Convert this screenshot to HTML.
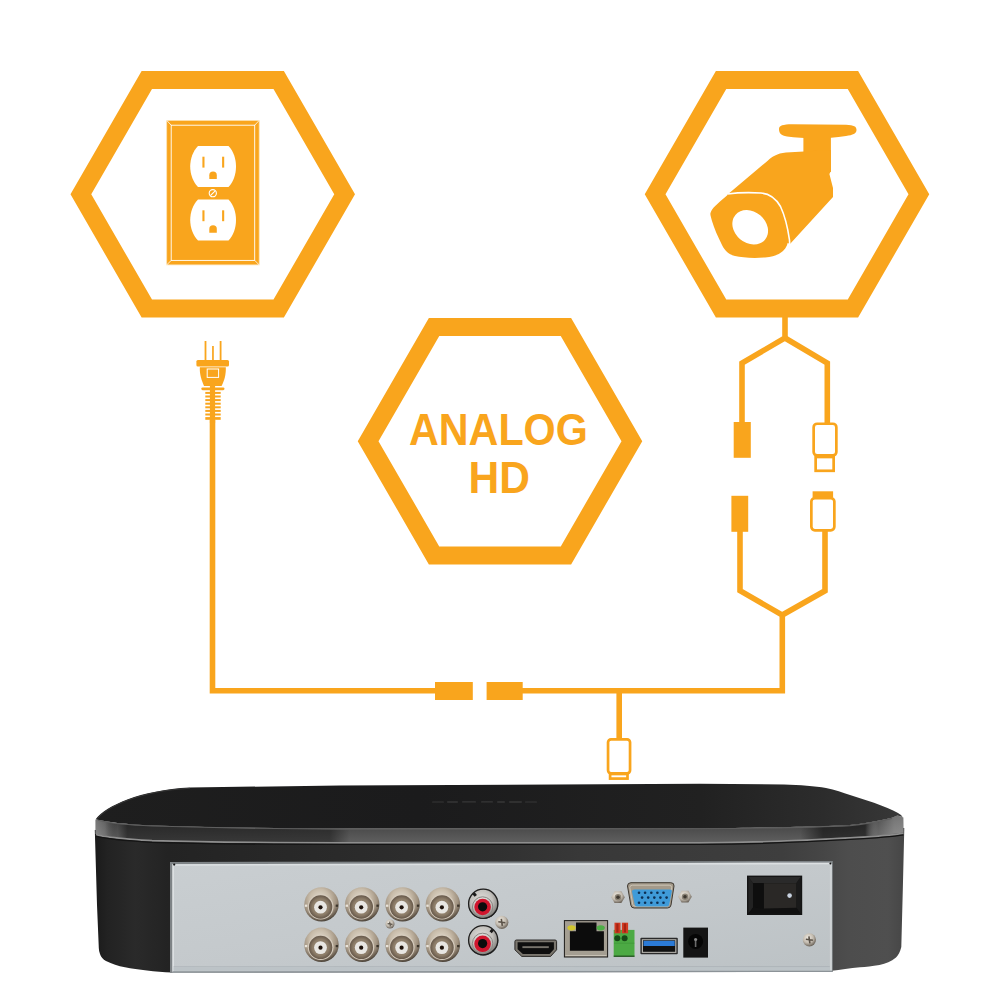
<!DOCTYPE html>
<html><head><meta charset="utf-8">
<style>
html,body{margin:0;padding:0;background:#fff;}
body{width:1000px;height:1000px;overflow:hidden;font-family:"Liberation Sans",sans-serif;}
svg{display:block;}
</style></head>
<body>
<svg width="1000" height="1000" viewBox="0 0 1000 1000">
<defs>
<linearGradient id="gBody" gradientUnits="userSpaceOnUse" x1="95" y1="0" x2="904" y2="0">
<stop offset="0" stop-color="#1a1a1a"/><stop offset="0.015" stop-color="#222"/><stop offset="0.05" stop-color="#2a2a2a"/><stop offset="0.09" stop-color="#232323"/>
<stop offset="0.3" stop-color="#2a2a2a"/><stop offset="0.5" stop-color="#313131"/><stop offset="0.6" stop-color="#383838"/><stop offset="0.85" stop-color="#3e3e3e"/><stop offset="0.9" stop-color="#464646"/><stop offset="0.93" stop-color="#4d4d4d"/><stop offset="0.98" stop-color="#4f4f4f"/><stop offset="1" stop-color="#464646"/>
</linearGradient>
<linearGradient id="gLid" gradientUnits="userSpaceOnUse" x1="95" y1="0" x2="904" y2="0">
<stop offset="0" stop-color="#1e1e1e"/><stop offset="0.4" stop-color="#1b1b1c"/><stop offset="0.75" stop-color="#212121"/><stop offset="0.9" stop-color="#2c2c2c"/><stop offset="1" stop-color="#383838"/>
</linearGradient>
<linearGradient id="gRim" x1="0" y1="0" x2="0" y2="1">
<stop offset="0" stop-color="#363636"/><stop offset="0.3" stop-color="#444"/><stop offset="0.8" stop-color="#575757"/><stop offset="1" stop-color="#5e5e5e"/>
</linearGradient>
<linearGradient id="gRimEnds" gradientUnits="userSpaceOnUse" x1="95" y1="0" x2="904" y2="0">
<stop offset="0" stop-color="#fff" stop-opacity="0.3"/><stop offset="0.0124" stop-color="#fff" stop-opacity="0.18"/><stop offset="0.028" stop-color="#000" stop-opacity="0"/><stop offset="0.04" stop-color="#000" stop-opacity="0.42"/>
<stop offset="0.29" stop-color="#000" stop-opacity="0.4"/><stop offset="0.315" stop-color="#000" stop-opacity="0"/>
<stop offset="0.872" stop-color="#000" stop-opacity="0"/><stop offset="0.9" stop-color="#000" stop-opacity="0.5"/><stop offset="0.952" stop-color="#000" stop-opacity="0.45"/><stop offset="0.968" stop-color="#fff" stop-opacity="0.12"/><stop offset="0.988" stop-color="#fff" stop-opacity="0.3"/><stop offset="1" stop-color="#fff" stop-opacity="0.32"/>
</linearGradient>
<linearGradient id="gPanel" x1="0" y1="0" x2="1" y2="1">
<stop offset="0" stop-color="#c9ced1"/><stop offset="0.5" stop-color="#c4c9cc"/><stop offset="1" stop-color="#bcc2c5"/>
</linearGradient>
<radialGradient id="gBncO" cx="0.45" cy="0.35" r="0.65">
<stop offset="0" stop-color="#e4ddd0"/><stop offset="0.45" stop-color="#c8bcaa"/><stop offset="0.75" stop-color="#a09280"/><stop offset="0.92" stop-color="#6a5e50"/><stop offset="1" stop-color="#4a4238"/>
</radialGradient>
<radialGradient id="gBncI" cx="0.5" cy="0.5" r="0.5">
<stop offset="0" stop-color="#a89884"/><stop offset="0.7" stop-color="#8c7c68"/><stop offset="1" stop-color="#66584a"/>
</radialGradient>
<radialGradient id="gRca" cx="0.45" cy="0.4" r="0.6">
<stop offset="0" stop-color="#e4e2de"/><stop offset="0.6" stop-color="#c2c0bc"/><stop offset="0.9" stop-color="#8a8884"/><stop offset="1" stop-color="#2a2a2a"/>
</radialGradient>
<radialGradient id="gScrew" cx="0.4" cy="0.35" r="0.65">
<stop offset="0" stop-color="#f0ece4"/><stop offset="0.6" stop-color="#c2baae"/><stop offset="1" stop-color="#6e665c"/>
</radialGradient>
<g id="bnc">
<circle r="17.2" fill="url(#gBncO)"/>
<circle cx="-0.8" cy="2.4" r="12.8" fill="#d6ccbe"/>
<circle cx="-0.9" cy="2.6" r="11.7" fill="url(#gBncI)"/>
<circle cx="-1" cy="2.8" r="6.4" fill="#e8e6e2"/>
<circle cx="-1" cy="2.9" r="2.1" fill="#1e120b"/>
<rect x="-16.6" y="0.2" width="2.4" height="2.2" fill="#eae4da"/><rect x="14.2" y="0.2" width="2.4" height="2.2" fill="#3a332a"/>
</g>
<g id="rca">
<circle r="15.2" fill="url(#gRca)"/>
<circle r="14.6" fill="none" stroke="#1e1e1e" stroke-width="1.3"/>
<circle cx="-0.6" cy="3.2" r="10.2" fill="none" stroke="#8a8884" stroke-width="1"/>
<circle cx="-0.6" cy="3.2" r="8.3" fill="#d0152d"/>
<circle cx="-0.6" cy="3" r="4.6" fill="#0c0c0c"/>
<rect x="-10" y="-11" width="3" height="3.5" fill="#1a1a1a" transform="rotate(-40 -8.5 -9.2)"/>
</g>
<g id="rca2">
<circle r="15.2" fill="url(#gRca)"/>
<circle r="14.6" fill="none" stroke="#1e1e1e" stroke-width="1.3"/>
<circle cx="-0.6" cy="3.2" r="10.2" fill="none" stroke="#8a8884" stroke-width="1"/>
<circle cx="-0.6" cy="3.6" r="8.3" fill="#d0152d"/>
<circle cx="-0.6" cy="3.4" r="4.6" fill="#0c0c0c"/>
<rect x="7" y="-11" width="3" height="3.5" fill="#1a1a1a" transform="rotate(40 8.5 -9.2)"/>
</g>
<g id="screw">
<circle r="6.6" fill="url(#gScrew)"/>
<path d="M-3.5,-0.5 L3.5,0.5 M-0.5,-3.5 L0.5,3.5" stroke="#5a5248" stroke-width="1.6"/>
</g>
</defs>
<rect width="1000" height="1000" fill="#fff"/>

<!-- DVR -->
<g id="dvr">
<path fill="url(#gBody)" d="M94.8,830 L904.3,828 L902.8,890 L901.3,947 C900,952 898.5,955 896,957.5 C891,961.5 886,963.5 879.5,965 C872,966.3 866,967 860,967.3 C850,968.3 840,969.8 832,970.8 L172,972.5 C155,971.8 138,969.8 125,967.3 C118,966 112,964 106,961 C103,959.5 101,957 100,954 C99.3,952 98.8,950 98.8,948 L97,905 Z"/>
<path fill="url(#gRim)" d="M95.5,819.5 C110,822.5 125,824.5 152,825.4 C220,827.5 280,828.3 340,828.5 L700,828.2 C780,827.5 820,826.5 850,825 C862,824 874,822 892,817.8 L897.4,815.4 L903.3,817.5 L903.5,832.5 C895,834 885,835.2 850,837 C800,840 760,841.8 700,842 L340,842 C250,841.8 190,841 152,840 C125,838.5 105,836.5 95.5,834 Z"/>
<path fill="url(#gRimEnds)" d="M95.5,819.5 C110,822.5 125,824.5 152,825.4 C220,827.5 280,828.3 340,828.5 L700,828.2 C780,827.5 820,826.5 850,825 C862,824 874,822 892,817.8 L897.4,815.4 L903.3,817.5 L903.5,832.5 C895,834 885,835.2 850,837 C800,840 760,841.8 700,842 L340,842 C250,841.8 190,841 152,840 C125,838.5 105,836.5 95.5,834 Z"/>
<path fill="none" stroke="#8e8e8e" stroke-width="1.7" d="M96,834.6 C105,837.2 125,839.2 152,840.7 C190,841.8 250,842.6 340,842.8 L700,842.8 C760,842.6 800,840.8 850,837.8 C885,836 895,834.8 903.5,833.3"/>
<path fill="none" stroke="#141414" stroke-width="1.3" d="M96,836.2 C105,838.8 125,840.8 152,842.3 C190,843.4 250,844.2 340,844.4 L700,844.4 C760,844.2 800,842.4 850,839.4 C885,837.6 895,836.4 903.5,834.9"/>
<path fill="url(#gLid)" d="M96.2,818.6 C106,806 140,790 190,787.5 L340,785.5 L700,783.8 L784,784.5 C800,785 815,786.2 826,788 C835,790 843,792.5 850,795 L874,802.8 C884,806.5 892,810 898,813 C900,814.2 901.5,815.4 902.6,817 L897.4,815.4 L892,817.8 C874,822 862,824 850,825 C820,826.5 780,827.5 700,828.2 L340,828.5 C280,828.3 220,827.5 152,825.4 C125,824.5 110,822.5 96.2,819.6 Z"/>
<path fill="none" stroke="#5e5e5e" stroke-width="1.1" d="M98,820.3 C110,823.2 125,825.1 152,826 C220,828.1 280,828.9 340,829.1 L700,828.8 C780,828.1 820,827.1 850,825.6 C862,824.6 874,822.6 892,818.4"/>
<path fill="none" stroke="#3a3a3a" stroke-width="0.9" d="M97.4,818.6 C107,806.6 140,790.8 190,788.3"/>
<g fill="#4c4c4c" opacity="0.55"><rect x="432" y="801.4" width="12" height="1.2" rx="0.6"/><rect x="447" y="801.2" width="11" height="1.5" rx="0.7"/><rect x="462" y="801.3" width="14" height="1.3" rx="0.6"/><rect x="481" y="801.3" width="12" height="1.3" rx="0.6"/><rect x="497" y="801.2" width="8" height="1.5" rx="0.7"/><rect x="509" y="801.2" width="13" height="1.5" rx="0.7"/><rect x="525" y="801.5" width="12" height="1.1" rx="0.5"/></g>
<!-- panel -->
<path d="M170,862 L832.8,861 L832.8,972 L170,972.8 Z" fill="#7e8386"/>
<path d="M172.4,864.2 L832,862.7 L832,971.8 L172.4,972.4 Z" fill="url(#gPanel)"/>
<path d="M173.2,972 L173.2,865 L831,863.5" fill="none" stroke="#dce0e2" stroke-width="1.6"/>
<path d="M830.8,864 L830.8,970.5" stroke="#cfd3d5" stroke-width="1.8"/>
<path d="M173.5,966.8 L829.8,966.6" stroke="#a9b0b5" stroke-width="0.8"/><path d="M173.5,969.2 L829.8,969" stroke="#bcc3c7" stroke-width="3.2"/>
<path d="M172.5,971.9 L832,971.4" stroke="#8c9398" stroke-width="1.2"/>
<circle cx="174.2" cy="864.6" r="1.1" fill="#111"/><circle cx="830.4" cy="863.4" r="1" fill="#111"/>
<!-- BNCs -->
<use href="#bnc" x="321.5" y="904.4"/><use href="#bnc" x="362.2" y="904.4"/><use href="#bnc" x="402.6" y="904.4"/><use href="#bnc" x="442.9" y="904.4"/>
<use href="#bnc" x="321.5" y="944.8"/><use href="#bnc" x="362.2" y="944.8"/><use href="#bnc" x="402.6" y="944.8"/><use href="#bnc" x="442.9" y="944.8"/>
<use href="#rca" x="483.2" y="903.8"/><use href="#rca2" x="483.2" y="940.2"/>
<g transform="translate(390,924) scale(0.68)"><use href="#screw"/></g>
<use href="#screw" x="501.8" y="922.3"/>
<use href="#screw" x="809.4" y="939.8"/>
<!-- VGA -->
<path d="M627.5,886 Q627.5,882.7 631,882.7 L670.8,882.7 Q674.3,882.7 674,886 L671,905 Q670.6,908 667.5,908 L634.2,908 Q631.2,908 630.8,905 Z" fill="#a49a8a" stroke="#3e3830" stroke-width="1"/>
<path d="M629.8,887.6 Q629.8,885.2 632.5,885.2 L669.2,885.2 Q671.9,885.2 671.6,887.6 L669,904.2 Q668.7,906.2 666.5,906.2 L635.2,906.2 Q633,906.2 632.7,904.2 Z" fill="none" stroke="#d0c8ba" stroke-width="0.9"/>
<path d="M632,891.5 Q632,889.5 634.5,889.5 L669.8,889.5 Q672.2,889.5 671.8,891.5 L669.3,904.6 Q669,906.6 667,906.6 L637,906.6 Q635,906.6 634.7,904.6 Z" fill="#3f9bd9"/>
<g fill="#0e2f52"><circle cx="639" cy="892.7" r="1.3"/><circle cx="645.1" cy="892.7" r="1.3"/><circle cx="651.3" cy="892.7" r="1.3"/><circle cx="657.4" cy="892.7" r="1.3"/><circle cx="663.5" cy="892.7" r="1.3"/><circle cx="642.1" cy="897.6" r="1.3"/><circle cx="648.2" cy="897.6" r="1.3"/><circle cx="654.3" cy="897.6" r="1.3"/><circle cx="660.4" cy="897.6" r="1.3"/><circle cx="666.6" cy="897.6" r="1.3"/><circle cx="639" cy="902.8" r="1.3"/><circle cx="645.1" cy="902.8" r="1.3"/><circle cx="651.3" cy="902.8" r="1.3"/><circle cx="657.4" cy="902.8" r="1.3"/><circle cx="663.5" cy="902.8" r="1.3"/></g>
<g transform="translate(618,897.2)"><polygon points="-6.8,0 -3.4,-5.9 3.4,-5.9 6.8,0 3.4,5.9 -3.4,5.9" fill="url(#gScrew)"/><circle r="3.2" fill="#8a8274"/><circle r="1.8" fill="#3e3830"/></g>
<g transform="translate(685,896.7)"><polygon points="-6.8,0 -3.4,-5.9 3.4,-5.9 6.8,0 3.4,5.9 -3.4,5.9" fill="url(#gScrew)"/><circle r="3.2" fill="#8a8274"/><circle r="1.8" fill="#3e3830"/></g>
<!-- HDMI -->
<path d="M516.5,940 L555,940 Q556.6,940 556.6,941.6 L556.6,949.8 L550.6,956.4 L521.8,956.4 L514.9,949.8 L514.9,941.6 Q514.9,940 516.5,940 Z" fill="#7a766e" stroke="#1e1c1a" stroke-width="0.9"/>
<path d="M517.6,942.2 L553.9,942.2 L553.9,949.2 L549.6,954 L522.8,954 L517.6,949.2 Z" fill="#0e0e0e"/>
<rect x="522.4" y="946.2" width="26.4" height="1.9" fill="#77736c"/>
<!-- Ethernet -->
<rect x="563.9" y="920.1" width="44.2" height="37.4" fill="#1e1c1a"/>
<rect x="564.9" y="921.1" width="42.2" height="35.4" fill="#a49e92"/>
<path d="M565.5,955.5 L606.5,955.5" stroke="#c8c2b6" stroke-width="1.2"/>
<path d="M576,922.6 L596.5,922.6 L596.5,931.2 L603.9,931.2 L603.9,950.8 L569.9,950.8 L569.9,931.2 L576,931.2 Z" fill="#0c0c0c"/>
<ellipse cx="571.5" cy="927.8" rx="4.1" ry="2.6" fill="#d2c62e"/>
<ellipse cx="600.7" cy="927.8" rx="4.1" ry="2.6" fill="#4eae46"/>
<!-- terminal -->
<rect x="613.7" y="929.9" width="20.8" height="26.8" fill="#4caa44"/>
<path d="M613.7,956.2 L634.5,956.2" stroke="#1f4a1c" stroke-width="1.2"/>
<path d="M614,943.2 L634.3,943.2" stroke="#3f9838" stroke-width="0.8"/>
<rect x="614.5" y="922.7" width="6" height="10.6" fill="#d23a22"/><rect x="621.9" y="922.7" width="6.2" height="10.6" fill="#d23a22"/>
<rect x="616.3" y="923.5" width="2.2" height="9" fill="#a42414"/><rect x="623.8" y="923.5" width="2.2" height="9" fill="#a42414"/>
<circle cx="617.3" cy="938.2" r="3" fill="#164a16"/><circle cx="624.6" cy="938.2" r="3" fill="#164a16"/>
<!-- USB -->
<rect x="640.4" y="937.8" width="37.4" height="16.5" fill="#2a2a2a" rx="1"/>
<rect x="641.8" y="939.2" width="34.6" height="13.7" fill="#b4b2ac"/>
<rect x="643" y="940.3" width="32.2" height="11.5" fill="#111"/>
<rect x="643.5" y="940.8" width="31.2" height="5.2" fill="#2b7ad6"/>
<!-- power jack -->
<rect x="683.3" y="927.6" width="24.7" height="30" fill="#141414"/>
<circle cx="695.6" cy="941.5" r="7.5" fill="#050505"/>
<circle cx="695.6" cy="939.5" r="1.6" fill="#8a8a8a"/>
<rect x="694.8" y="941" width="1.6" height="6" fill="#6a6a6a"/>
<!-- switch -->
<rect x="747" y="875.6" width="55.2" height="39.4" fill="#141414"/>
<path d="M748.5,877 L800.7,877 L796.3,883.2 L753,883.2 Z" fill="#2a2a2a"/>
<path d="M748.5,877 L753,883.2 L753,907.6 L748.5,913.6 Z" fill="#222"/>
<path d="M748.5,913.6 L800.7,913.6 L796.3,907.6 L753,907.6 Z" fill="#101010"/>
<path d="M800.7,877 L800.7,913.6 L796.3,907.6 L796.3,883.2 Z" fill="#1a1a1a"/>
<rect x="753" y="883.2" width="43.3" height="24.4" fill="#121212"/>
<path d="M763.8,883.2 L796.3,883.2 L796.3,907.8 L763.8,908.6 Z" fill="#2a2826"/>
<path d="M753,883.2 L763.8,883.2 L763.8,908.6 L753,907.6 Z" fill="#0e0e0e"/>
<circle cx="789.6" cy="895.6" r="2.3" fill="#c8d2e0"/>
</g>
<!-- ORANGE -->
<g id="orange" fill="#F9A51D">
<path fill-rule="evenodd" d="M355.00,194.30 L283.88,317.49 L141.63,317.49 L70.50,194.30 L141.62,71.11 L283.88,71.11 Z M334.25,194.30 L273.50,299.52 L152.00,299.52 L91.25,194.30 L152.00,89.08 L273.50,89.08 Z"/>
<path fill-rule="evenodd" d="M929.25,194.30 L858.12,317.49 L715.88,317.49 L644.75,194.30 L715.88,71.11 L858.12,71.11 Z M908.50,194.30 L847.75,299.52 L726.25,299.52 L665.50,194.30 L726.25,89.08 L847.75,89.08 Z"/>
<path fill-rule="evenodd" d="M642.25,441.20 L571.12,564.39 L428.88,564.39 L357.75,441.20 L428.87,318.01 L571.12,318.01 Z M621.50,441.20 L560.75,546.42 L439.25,546.42 L378.50,441.20 L439.25,335.98 L560.75,335.98 Z"/>
<text x="0" y="0" transform="translate(498.4 444.8) scale(1 1.065)" font-family="Liberation Sans" font-weight="bold" font-size="41.3" text-anchor="middle">ANALOG</text>
<text x="0" y="0" transform="translate(499.3 492.6) scale(1.03 1.065)" font-family="Liberation Sans" font-weight="bold" font-size="41.3" text-anchor="middle">HD</text>

<!-- outlet -->
<rect x="166.7" y="120.4" width="92.5" height="144.5"/>
<rect x="171.2" y="125.2" width="83.5" height="135.2" fill="none" stroke="#fff" stroke-width="0.9"/>
<rect x="166.7" y="120.4" width="92.5" height="144.5" fill="none" stroke="#fde3b5" stroke-width="0.8"/>
<path d="M166.7,120.4 L171.2,125.2 M259.2,120.4 L254.7,125.2 M166.7,264.9 L171.2,260.4 M259.2,264.9 L254.7,260.4" stroke="#fff" stroke-width="0.8"/>
<path fill="#fff" transform="translate(0,0)" d="M198,146 L228.5,146 C233.5,151 236,159 236,166.5 C236,174 233.5,182 228.5,187 L198,187 C193,182 190.2,174 190.2,166.5 C190.2,159 193,151 198,146 Z"/>
<g transform="translate(0,0)"><rect x="202.4" y="156.7" width="2.1" height="10.9"/><rect x="222.1" y="156.7" width="2.1" height="10.9"/><path d="M209.3,179.1 L209.3,175.3 A3.75,3.75 0 0 1 216.8,175.3 L216.8,179.1 Z"/></g>
<path fill="#fff" transform="translate(0,53.6)" d="M198,146 L228.5,146 C233.5,151 236,159 236,166.5 C236,174 233.5,182 228.5,187 L198,187 C193,182 190.2,174 190.2,166.5 C190.2,159 193,151 198,146 Z"/>
<g transform="translate(0,53.6)"><rect x="202.4" y="156.7" width="2.1" height="10.9"/><rect x="222.1" y="156.7" width="2.1" height="10.9"/><path d="M209.3,179.1 L209.3,175.3 A3.75,3.75 0 0 1 216.8,175.3 L216.8,179.1 Z"/></g>
<circle cx="212.8" cy="193.2" r="3.6" fill="none" stroke="#fff" stroke-width="1.1"/>
<path d="M210.4,195.6 L215.2,190.8" stroke="#fff" stroke-width="1.1"/>
<!-- plug -->
<rect x="204.6" y="341" width="1.8" height="20"/>
<rect x="212.1" y="346" width="1.7" height="15"/>
<rect x="219.7" y="341" width="1.8" height="20"/>
<rect x="196.4" y="360" width="32.6" height="6.6" rx="1.5"/>
<path d="M199.8,367.3 L225.8,367.3 C226,375 224.5,380 221.6,385.9 L204,385.9 C201.5,380 199.6,375 199.8,367.3 Z"/>
<rect x="207.2" y="369" width="11.4" height="8.4" fill="none" stroke="#fff" stroke-width="1"/>
<rect x="201.3" y="387.4" width="23.2" height="2.8" rx="1.4"/>
<rect x="205.3" y="391.90" width="15.4" height="2.0"/><rect x="205.3" y="395.50" width="15.4" height="2.0"/><rect x="205.3" y="399.10" width="15.4" height="2.0"/><rect x="205.3" y="402.70" width="15.4" height="2.0"/><rect x="205.3" y="406.30" width="15.4" height="2.0"/><rect x="205.3" y="409.90" width="15.4" height="2.0"/><rect x="205.3" y="413.50" width="15.4" height="2.0"/><rect x="205.3" y="417.10" width="15.4" height="2.7"/>
<rect x="209.9" y="385" width="5.2" height="38"/>
<!-- cables -->
<g fill="none" stroke="#F9A51D" stroke-width="5.6">
<path d="M212.5,420 L212.5,690.75 L440,690.75"/>
<path d="M520,690.75 L782.3,690.75 L782.3,615 L740,590.75 L740,530"/>
<path d="M782.3,615 L825,590.75 L825,530"/>
<path d="M619.2,690.75 L619.2,740"/>
<path d="M785,317 L785,338 L742,363 L742,425"/>
<path d="M785,338 L827.3,363 L827.3,425"/>
</g>
<rect x="435" y="682" width="37.8" height="18"/>
<rect x="486.6" y="682" width="36.1" height="18"/>
<rect x="733.7" y="422" width="17.1" height="35.8"/>
<rect x="731.4" y="495.8" width="16.8" height="36"/>
<rect x="812.6" y="491.3" width="20.5" height="5.8"/>
<g fill="#fff" stroke="#F9A51D" stroke-width="2.7">
<rect x="813.65" y="423.75" width="22.7" height="31.7" rx="3.5"/>
<rect x="815.65" y="457" width="18" height="13.8"/>
<rect x="811.35" y="498.1" width="23.0" height="32.2" rx="3.5"/>
<rect x="608.05" y="739.35" width="22.0" height="34" rx="3"/>
<rect x="610.1" y="774" width="17.4" height="4.6"/>
</g>
<!-- camera -->
<path d="M779,129 C779,125.5 783,124.5 792,124.3 L846,124.8 C854,125.2 856.5,126.5 856.5,130 C856.5,133.5 853,135 846,136 C836,137.5 826,138.3 817,138.3 C805,138.3 795,137.6 787,136.5 C781,135.6 779,133 779,129 Z"/>
<rect x="803.4" y="135" width="27.5" height="37"/>
<path d="M727,195 L768,160.5 C772,156.5 777,153.5 786,152.5 L830.9,150 L830.9,171 L829.4,174 L833,188 L833,197 L790,244 L760,230 Z"/>
<path d="M710.5,213 C712,208 716,205 727,195.5 C729,194 731,193.8 735,193.8 L761,194.3 C768,195 775,198 781,207 C784,214 786,224 788,235 C789,242 787,247 783,251 C779,254.5 774,256.5 765,257.5 C752,258.5 742,257.5 735,256 C729,254.5 725,251 722,245 C718,237 714,228 712,221 C711,217 710,215 710.5,213 Z"/>
<path d="M727.5,194 C738,192.5 750,192.3 761,193 C768,193.5 775,197 780.5,206.5 C784,214 787.5,226 789.5,240 L789.8,245.5" fill="none" stroke="#fff" stroke-width="1.6"/>
<ellipse cx="750.2" cy="227.3" rx="19.3" ry="15.6" transform="rotate(40 750.2 227.3)" fill="#fff"/>
</g>
</svg>
</body></html>
